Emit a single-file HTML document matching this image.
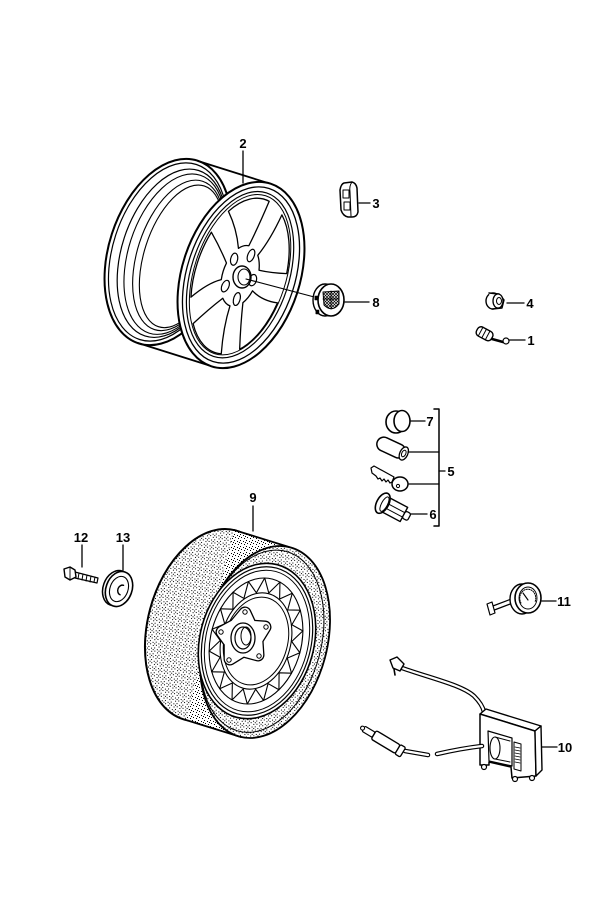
<!DOCTYPE html>
<html><head><meta charset="utf-8">
<style>
html,body{margin:0;padding:0;background:#fff;}
svg{display:block;}
text{font-family:"Liberation Sans",sans-serif;font-weight:bold;font-size:13px;fill:#000;}
</style></head><body>
<svg width="600" height="900" viewBox="0 0 600 900" xmlns="http://www.w3.org/2000/svg">
<defs>
<pattern id="st" patternUnits="userSpaceOnUse" width="6" height="6">
<rect width="6" height="6" fill="#fff"/>
<rect x="0" y="0" width="1" height="1" fill="#000"/>
<rect x="3" y="1" width="1" height="1" fill="#000"/>
<rect x="1" y="3" width="1" height="1" fill="#000"/>
<rect x="4" y="4" width="1" height="1" fill="#000"/>
<rect x="5" y="2" width="1" height="1" fill="#000"/>
</pattern>
<pattern id="hx" patternUnits="userSpaceOnUse" width="3" height="3">
<rect width="3" height="3" fill="#fff"/>
<path d="M0,0 L3,3 M3,0 L0,3" stroke="#000" stroke-width="0.7"/>
</pattern>
<path id="win" d="M0.363,-0.111 Q0.62,-0.2 0.872,-0.425 A0.97,0.97 0 0 1 0.886,0.395 Q0.6,0.25 0.367,0.098 A0.38,0.38 0 0 0 0.363,-0.111 Z" fill="#fff" stroke="#000" stroke-width="1.3" vector-effect="non-scaling-stroke"/>
<ellipse id="hole" cx="0.29" cy="0" rx="0.08" ry="0.07" fill="#fff" stroke="#000" stroke-width="1.2" vector-effect="non-scaling-stroke"/>
<path id="tooth" d="M0.89,0 L0.68,0.118 L0.836,0.304" fill="none" stroke="#000" stroke-width="1.1" vector-effect="non-scaling-stroke"/>
</defs>

<g fill="none" stroke="#000" stroke-linecap="round" stroke-linejoin="round">

<!-- ============ UPPER WHEEL (2) ============ -->
<g transform="translate(168,252) rotate(18)">
  <ellipse rx="59" ry="96" fill="#fff" stroke-width="2"/>
  <ellipse rx="55" ry="92" stroke-width="1.2"/>
  <ellipse cx="4" rx="50" ry="87" stroke-width="1.2"/>
  <ellipse cx="7" rx="46" ry="83" stroke-width="1.1"/>
  <ellipse cx="11" rx="41" ry="78" stroke-width="1.1"/>
  <ellipse cx="14" rx="37" ry="74" stroke-width="1.1"/>
</g>
<path d="M198,161 L271,184" stroke-width="1.8"/>
<path d="M138,343 L211,366" stroke-width="1.8"/>
<g transform="translate(241,275) rotate(18)">
  <ellipse rx="59" ry="96" fill="#fff" stroke-width="2"/>
  <ellipse rx="54" ry="91" stroke-width="1.3"/>
  <ellipse cx="-1" rx="49" ry="86" stroke-width="1.2"/>
  <ellipse cx="-1" rx="46" ry="83" stroke-width="1"/>
</g>
<g transform="translate(240,276) rotate(18) scale(46,83)">
  <use href="#win" transform="rotate(36)"/>
  <use href="#win" transform="rotate(108)"/>
  <use href="#win" transform="rotate(180)"/>
  <use href="#win" transform="rotate(252)"/>
  <use href="#win" transform="rotate(324)"/>
  <use href="#hole" transform="rotate(0)"/>
  <use href="#hole" transform="rotate(72)"/>
  <use href="#hole" transform="rotate(144)"/>
  <use href="#hole" transform="rotate(216)"/>
  <use href="#hole" transform="rotate(288)"/>
</g>
<ellipse cx="242" cy="277" rx="9" ry="11" fill="#fff" stroke-width="1.4"/>
<ellipse cx="244" cy="277" rx="6" ry="8" stroke-width="1.1"/>
<path d="M246,279 L318,298" stroke-width="1.1"/>

<!-- cap 8 -->
<ellipse cx="325" cy="300" rx="12" ry="16" fill="#fff" stroke-width="1.4"/>
<rect x="315" y="296" width="3" height="4" fill="#000" stroke-width="0.5"/>
<rect x="316" y="310" width="3" height="4" fill="#000" stroke-width="0.5"/>
<ellipse cx="331" cy="300" rx="13" ry="16" fill="#fff" stroke-width="1.6"/>
<path d="M323,292 L339,291 L339,304 Q332,313 324,305 Z" fill="url(#hx)" stroke-width="1"/>
<path d="M331,291 L331,309 M323,299 L339,299" stroke-width="0.9"/>

<!-- part 3 -->
<path d="M344,183 L352,182 Q356,183 357,188 L358,212 Q357,217 352,217 L348,217 Q343,216 341,210 L340,190 Q341,184 344,183 Z" fill="#fff" stroke-width="1.5"/>
<path d="M352,182 Q349,186 350,192 L351,216" stroke-width="1"/>
<rect x="343" y="190" width="6" height="8" stroke-width="1"/>
<rect x="344" y="202" width="6" height="8" stroke-width="1"/>

<!-- leaders upper -->
<path d="M243,151 L243,183" stroke-width="1.3"/>
<path d="M359,203 L370,203" stroke-width="1.3"/>
<path d="M345,302 L369,302" stroke-width="1.3"/>

<!-- nut 4 -->
<ellipse cx="493" cy="301" rx="7" ry="8" fill="#fff" stroke-width="1.4"/>
<path d="M489,293 L499,294 L504,300 L502,308 L492,309" fill="#fff" stroke-width="1.4"/>
<ellipse cx="498" cy="301" rx="5" ry="7" fill="#fff" stroke-width="1.3"/>
<ellipse cx="499" cy="301" rx="2.5" ry="3.5" stroke-width="1"/>
<path d="M507,303 L524,303" stroke-width="1.3"/>

<!-- valve 1 -->
<g transform="translate(485,334) rotate(28)">
  <rect x="-9" y="-5" width="17" height="10" rx="4" fill="#fff" stroke-width="1.4"/>
  <path d="M-5,-5 L-5,5 M-1,-5 L-1,5 M3,-5 L3,5" stroke-width="1"/>
</g>
<path d="M492,339 L503,342" stroke-width="2.5"/>
<circle cx="506" cy="341" r="3" fill="#fff" stroke-width="1.2"/>
<path d="M509,340 L525,340" stroke-width="1.3"/>

<!-- ============ LOCK PARTS ============ -->
<ellipse cx="396" cy="422" rx="10" ry="11" fill="#fff" stroke-width="1.6"/>
<ellipse cx="402" cy="421" rx="8" ry="10.5" fill="#fff" stroke-width="1.6"/>
<path d="M411,421 L425,421" stroke-width="1.3"/>

<g transform="translate(392,448) rotate(25)">
  <rect x="-16" y="-7" width="30" height="14" rx="7" fill="#fff" stroke-width="1.5"/>
  <ellipse cx="13" cy="0" rx="4" ry="7" fill="#fff" stroke-width="1.3"/>
  <ellipse cx="13" cy="0" rx="2" ry="3.5" stroke-width="1"/>
</g>
<path d="M408,452 L439,452" stroke-width="1.3"/>

<path d="M371,468 L374,466 L394,477 L392,482 L390,483 L388,480 L386,482 L384,479 L382,481 L380,478 L378,479 L376,476 L372,473 Z" fill="#fff" stroke-width="1.2"/>
<ellipse cx="400" cy="484" rx="8" ry="7" fill="#fff" stroke-width="1.5"/>
<circle cx="398" cy="486" r="1.6" stroke-width="1"/>
<path d="M409,484 L439,484" stroke-width="1.3"/>

<g transform="translate(388,506) rotate(28)">
  <rect x="-2" y="-8" width="20" height="16" fill="#fff" stroke-width="1.4"/>
  <path d="M-2,-2 L18,-2 M-2,3 L18,3" stroke-width="1"/>
  <ellipse cx="-6" cy="0" rx="6" ry="11" fill="#fff" stroke-width="1.6"/>
  <ellipse cx="-4" cy="0" rx="3" ry="8" stroke-width="1"/>
  <rect x="18" y="-4" width="6" height="8" rx="2" fill="#fff" stroke-width="1.3"/>
</g>
<path d="M411,514 L427,514" stroke-width="1.3"/>
<path d="M434,409 L439,409 L439,526 L434,526" stroke-width="1.5"/>
<path d="M439,471 L445,471" stroke-width="1.3"/>

<!-- ============ SPARE TIRE (9) ============ -->
<g transform="translate(210,625) rotate(15)">
  <ellipse rx="62" ry="98" fill="url(#st)" stroke-width="2"/>
</g>
<path d="M234,530 L289,547 L241,737 L186,720 Z" fill="url(#st)" stroke="none"/>
<path d="M234,530 L289,547" stroke-width="1.8"/>
<path d="M186,720 L241,737" stroke-width="1.8"/>
<g transform="translate(265,642) rotate(15)">
  <ellipse rx="62" ry="98" fill="url(#st)" stroke-width="1.8"/>
  <ellipse cx="-3" rx="59" ry="93" stroke-width="1"/>
</g>
<g transform="translate(257,641) rotate(15)">
  <ellipse rx="57" ry="79" fill="#fff" stroke-width="1.6"/>
  <ellipse rx="54" ry="75.5" stroke-width="1.2"/>
  <ellipse rx="51" ry="72" stroke-width="1"/>
</g>
<g transform="translate(256,641) rotate(15) scale(51,72)">
  <circle r="0.89" stroke-width="1.1" vector-effect="non-scaling-stroke"/>
  <circle r="0.68" stroke-width="1.1" vector-effect="non-scaling-stroke"/>
  <circle r="0.62" stroke-width="1" vector-effect="non-scaling-stroke"/>
  <use href="#tooth" transform="rotate(0)"/><use href="#tooth" transform="rotate(20)"/>
  <use href="#tooth" transform="rotate(40)"/><use href="#tooth" transform="rotate(60)"/>
  <use href="#tooth" transform="rotate(80)"/><use href="#tooth" transform="rotate(100)"/>
  <use href="#tooth" transform="rotate(120)"/><use href="#tooth" transform="rotate(140)"/>
  <use href="#tooth" transform="rotate(160)"/><use href="#tooth" transform="rotate(180)"/>
  <use href="#tooth" transform="rotate(200)"/><use href="#tooth" transform="rotate(220)"/>
  <use href="#tooth" transform="rotate(240)"/><use href="#tooth" transform="rotate(260)"/>
  <use href="#tooth" transform="rotate(280)"/><use href="#tooth" transform="rotate(300)"/>
  <use href="#tooth" transform="rotate(320)"/><use href="#tooth" transform="rotate(340)"/>
</g>
<!-- hub flange -->
<path d="M245,613 L251,626 L265,627 L257,640 L258,655 L243,651 L230,659 L230,643 L222,632 L235,625 Z" stroke="#000" stroke-width="13" stroke-linejoin="round"/>
<path d="M245,613 L251,626 L265,627 L257,640 L258,655 L243,651 L230,659 L230,643 L222,632 L235,625 Z" fill="#fff" stroke="#fff" stroke-width="10.4" stroke-linejoin="round"/>
<circle cx="245" cy="612" r="2.2" stroke-width="1"/>
<circle cx="266" cy="627" r="2.2" stroke-width="1"/>
<circle cx="259" cy="656" r="2.2" stroke-width="1"/>
<circle cx="229" cy="660" r="2.2" stroke-width="1"/>
<circle cx="221" cy="632" r="2.2" stroke-width="1"/>
<ellipse cx="243" cy="638" rx="12" ry="15" fill="#fff" stroke-width="1.3"/>
<ellipse cx="243" cy="638" rx="8" ry="11" stroke-width="1.2"/>
<ellipse cx="246" cy="636" rx="5" ry="9" stroke-width="1"/>
<path d="M253,506 L253,531" stroke-width="1.3"/>

<!-- ============ 12 / 13 ============ -->
<path d="M82,545 L82,567" stroke-width="1.3"/>
<path d="M123,545 L123,570" stroke-width="1.3"/>
<path d="M75,572 L98,578 L97,583 L75,578 Z" fill="#fff" stroke-width="1.2"/>
<path d="M79,573 L78,579 M83,574 L82,580 M87,575 L86,581 M91,576 L90,582 M95,577 L94,582" stroke-width="1"/>
<path d="M64,569 L70,567 L75,570 L76,577 L70,580 L65,577 Z" fill="#fff" stroke-width="1.4"/>
<path d="M70,567 L70,580" stroke-width="0.9"/>
<g transform="translate(119,589) rotate(20)">
  <ellipse cx="-3" rx="13" ry="18" fill="#fff" stroke-width="1.5"/>
  <ellipse rx="13" ry="18" fill="#fff" stroke-width="1.6"/>
  <ellipse rx="9" ry="13" stroke-width="1.1"/>
  <path d="M3,-5 A4,5 0 1 0 3,5" stroke-width="1.4"/>
</g>

<!-- ============ GAUGE 11 ============ -->
<path d="M491,609 L512,601" stroke-width="5.5"/>
<path d="M491,609 L512,601" stroke="#fff" stroke-width="3"/>
<path d="M487,604 L492,602 L495,613 L490,615 Z" fill="#fff" stroke-width="1.2"/>
<ellipse cx="522" cy="599" rx="12" ry="15" fill="#fff" stroke-width="1.4"/>
<ellipse cx="528" cy="598" rx="13" ry="15" fill="#fff" stroke-width="1.6"/>
<ellipse cx="528" cy="598" rx="9" ry="11" stroke-width="0.9"/>
<path d="M521,603 A8,9 0 1 1 535,602" stroke-width="1" stroke-dasharray="1.2,1.2"/>
<path d="M528,600 L523,593" stroke-width="1.1"/>
<path d="M542,601 L556,601" stroke-width="1.3"/>

<!-- ============ COMPRESSOR 10 ============ -->
<path d="M402,668 C430,678 462,685 474,696 C480,702 483,707 484,712" stroke-width="4.5"/>
<path d="M402,668 C430,678 462,685 474,696 C480,702 483,707 484,712" stroke="#fff" stroke-width="2.2"/>
<path d="M390,660 L397,657 L404,664 L400,671 L393,668 Z" fill="#fff" stroke-width="1.4"/>
<path d="M394,669 L395,675" stroke-width="1.6"/>
<path d="M480,714 L486,709 L541,726 L535,731 Z" fill="#fff" stroke-width="1.4"/>
<path d="M480,714 L535,731 L536,776 L512,778 L511,767 L489,762 L489,765 L480,765 Z" fill="#fff" stroke-width="1.5"/>
<path d="M535,731 L541,726 L542,770 L536,776 Z" fill="#fff" stroke-width="1.4"/>
<path d="M488,731 L512,738 L512,766 L489,761 Z" fill="#fff" stroke-width="1.2"/>
<ellipse cx="495" cy="748" rx="5" ry="11" fill="#fff" stroke-width="1.1"/>
<path d="M495,737 L510,741 M495,759 L510,762" stroke-width="1"/>
<path d="M514,742 L521,744 L521,771 L514,769 Z" stroke-width="1"/>
<path d="M515,747 L520,748 M515,750 L520,751 M515,753 L520,754 M515,756 L520,757 M515,759 L520,760 M515,762 L520,763" stroke-width="0.7"/>
<circle cx="484" cy="767" r="2.5" fill="#fff" stroke-width="1.2"/>
<circle cx="515" cy="779" r="2.5" fill="#fff" stroke-width="1.2"/>
<circle cx="532" cy="778" r="2.5" fill="#fff" stroke-width="1.2"/>
<path d="M405,751 L428,755" stroke-width="4.5"/>
<path d="M405,751 L428,755" stroke="#fff" stroke-width="2.2"/>
<path d="M437,754 C450,751 465,748 482,746" stroke-width="4.5"/>
<path d="M437,754 C450,751 465,748 482,746" stroke="#fff" stroke-width="2.2"/>
<g transform="translate(384,741) rotate(31)">
  <rect x="-24" y="-3" width="12" height="6" rx="1.5" fill="#fff" stroke-width="1.2"/>
  <circle cx="-25" cy="0" r="2" fill="#fff" stroke-width="1.1"/>
  <rect x="-12" y="-5" width="28" height="10" rx="2" fill="#fff" stroke-width="1.4"/>
  <rect x="16" y="-5.5" width="6" height="11" rx="1.5" fill="#fff" stroke-width="1.3"/>
</g>
<path d="M542,747 L557,747" stroke-width="1.3"/>

</g>

<!-- labels -->
<g text-anchor="middle">
<text x="243" y="148">2</text>
<text x="376" y="208">3</text>
<text x="376" y="307">8</text>
<text x="530" y="308">4</text>
<text x="531" y="345">1</text>
<text x="430" y="426">7</text>
<text x="451" y="476">5</text>
<text x="433" y="519">6</text>
<text x="253" y="502">9</text>
<text x="81" y="542">12</text>
<text x="123" y="542">13</text>
<text x="564" y="606">11</text>
<text x="565" y="752">10</text>
</g>
</svg>
</body></html>
